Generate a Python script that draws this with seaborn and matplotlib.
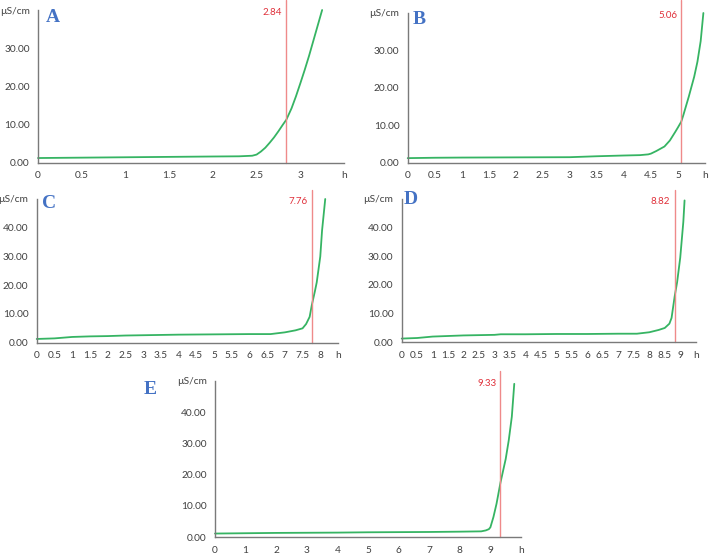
import matplotlib
matplotlib.use("Agg")
import matplotlib.pyplot as plt
import numpy as np
import seaborn as sns

# conductivity curves (hours, µS/cm)
a_h = [0, 0.5, 1, 1.5, 2, 2.3, 2.45, 2.5, 2.55, 2.6, 2.65, 2.7, 2.75, 2.8, 2.84,
       2.9, 2.95, 3.0, 3.05, 3.1, 3.15, 3.2, 3.25]
a_us = [1.3, 1.4, 1.5, 1.6, 1.7, 1.75, 1.9, 2.2, 3.0, 4.0, 5.3, 6.7, 8.3, 10.0, 11.3,
        14.3, 17.4, 20.8, 24.3, 28.0, 32.0, 36.0, 40.0]

b_h = [0, 0.5, 1, 2, 3, 3.5, 4, 4.3, 4.45, 4.5, 4.6, 4.75, 4.85, 4.95, 5.0, 5.06,
       5.1, 5.2, 5.3, 5.36, 5.42, 5.47]
b_us = [1.3, 1.4, 1.45, 1.5, 1.55, 1.8, 2.0, 2.1, 2.3, 2.5, 3.2, 4.4, 6.0, 8.3, 9.5, 11.0,
        12.8, 17.7, 23.0, 27.0, 32.5, 40.0]

c_h = [0, 0.5, 1, 1.5, 2, 2.5, 3, 4, 5, 6, 6.6, 7, 7.3, 7.5, 7.6, 7.7, 7.76,
       7.85, 7.9, 8.0, 8.05, 8.14]
c_us = [1.3, 1.5, 2.0, 2.2, 2.3, 2.5, 2.6, 2.8, 2.9, 3.0, 3.0, 3.6, 4.3, 5.0, 6.5, 9.0, 13.0,
        18.0, 21.0, 30.0, 39.0, 50.0]

d_h = [0, 0.5, 1, 1.5, 2, 2.5, 3, 3.2, 4, 5, 6, 7, 7.6, 8, 8.3, 8.5, 8.65, 8.72,
       8.82, 8.9, 9.0, 9.1, 9.14]
d_us = [1.3, 1.5, 2.0, 2.2, 2.4, 2.5, 2.6, 2.8, 2.8, 2.9, 2.9, 3.0, 3.0, 3.5, 4.3, 5.0, 6.5,
        8.5, 16.0, 21.0, 29.5, 42.0, 49.5]

e_h = [0, 1, 2, 3, 4, 5, 6, 7, 8, 8.7, 8.85, 8.95, 9.0, 9.1, 9.2, 9.33, 9.5,
       9.6, 9.7, 9.78]
e_us = [1.2, 1.3, 1.4, 1.45, 1.5, 1.6, 1.65, 1.7, 1.8, 1.9, 2.2, 2.6, 3.2, 6.5, 10.7, 17.5,
        25.0, 31.0, 38.5, 49.0]

letters = ["A", "B", "C", "D", "E"]
endpoints = [2.84, 5.06, 7.76, 8.82, 9.33]
x_max = [3.5, 5.5, 8.5, 9.5, 10]
y_max = [40, 40, 50, 50, 50]
x_step = [0.5, 0.5, 0.5, 0.5, 1]
curves = [(a_h, a_us), (b_h, b_us), (c_h, c_us), (d_h, d_us), (e_h, e_us)]

# axes boxes in pixels: left, right, top, bottom ; letter anchor (x, y)
W, H = 709, 554
boxes = [(38, 344, 10, 163), (407.7, 705, 13, 163), (36.7, 338, 199, 342.7),
         (401.7, 695.7, 199, 342.3), (215, 521, 380.7, 537.3)]
letter_pos = [(46, 9), (413, 11), (42, 195), (404, 191), (144, 381)]
line_top = [0, 0, 190, 190, 371]

GREEN = "#36b463"
RED_LINE = "#ef8a8a"
RED_TXT = "#e0303a"
AXIS = "#7a7a7a"
TXT = "#404040"
BLUE = "#4472c4"

sns.set_style("white")
plt.rcParams["font.family"] = ["Lato", "DejaVu Sans"]

fig = plt.figure(figsize=(W / 100, H / 100), dpi=100)

for i in range(5):
    l, r, t, b = boxes[i]
    ax = fig.add_axes([l / W, 1 - b / H, (r - l) / W, (b - t) / H])
    hx, us = curves[i]
    sns.lineplot(x=hx, y=us, ax=ax, color=GREEN, linewidth=1.3, clip_on=False)

    ax.set_xlim(0, x_max[i])
    ax.set_ylim(0, y_max[i])

    xt = np.arange(0, x_max[i] + 1e-9, x_step[i])
    ax.set_xticks(xt)
    ax.set_xticklabels([f"{v:g}" for v in xt[:-1]] + ["h"])
    yt = np.arange(0, y_max[i] + 1e-9, 10)
    ax.set_yticks(yt)
    ax.set_yticklabels([f"{v:.2f}" for v in yt[:-1]] + ["µS/cm"])

    for s in ["top", "right"]:
        ax.spines[s].set_visible(False)
    for s in ["left", "bottom"]:
        ax.spines[s].set_color(AXIS)
        ax.spines[s].set_linewidth(1.0)
    ax.tick_params(axis="both", direction="out", length=3, width=0.8, color=AXIS,
                   labelsize=7.3, labelcolor=TXT, pad=3)
    ax.set_xlabel("")
    ax.set_ylabel("")

    # red end-point line and its label
    vx = endpoints[i]
    top_frac = 1 + (t - line_top[i]) / (b - t)
    ax.axvline(vx, ymin=0, ymax=top_frac, color=RED_LINE, linewidth=1.0, clip_on=False)
    ax.annotate(f"{vx:.2f}", xy=(vx, y_max[i]), xytext=(-3, -2), textcoords="offset points",
                ha="right", va="center", color=RED_TXT, fontsize=7)

    lx, ly = letter_pos[i]
    fig.text(lx / W, 1 - ly / H, letters[i], ha="left", va="top", color=BLUE,
             fontsize=14, fontweight="bold", family="Liberation Serif")

fig.savefig("out.png", dpi=100)
